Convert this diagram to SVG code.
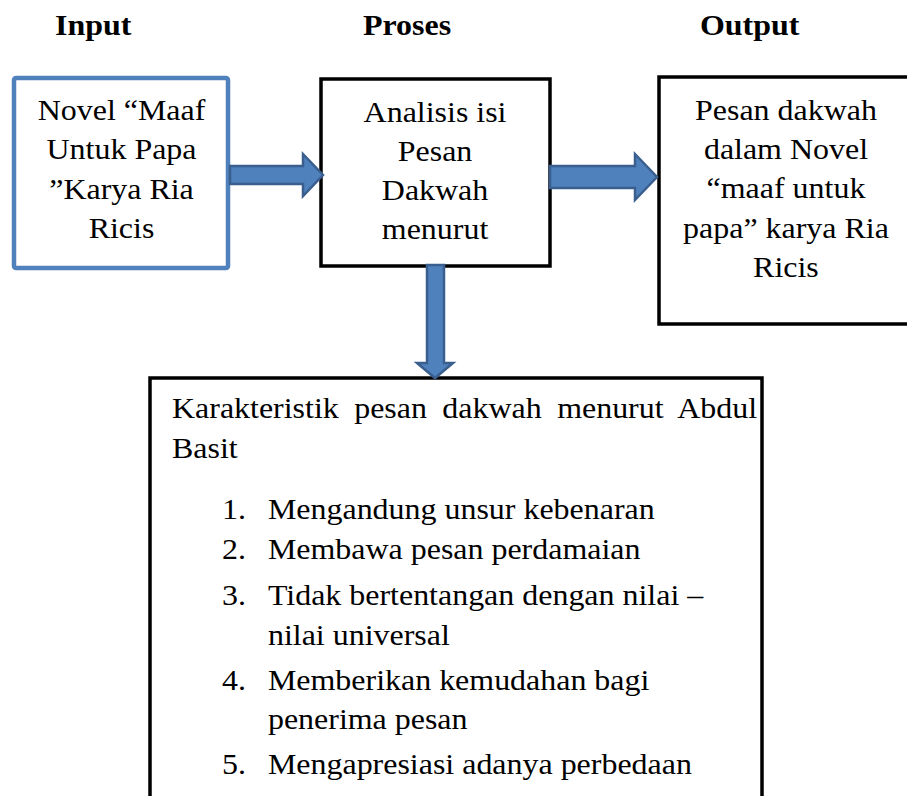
<svg xmlns="http://www.w3.org/2000/svg" width="907" height="796" viewBox="0 0 907 796">
<style>
text{font-family:"Liberation Serif","Times New Roman",serif;font-size:30px;fill:#000}
.h{font-weight:bold}
.c{text-anchor:middle}
.box{fill:#fff;stroke:#000;stroke-width:3.5}
.blue{fill:#fff;stroke:#4F81BD;stroke-width:4.5}
.arr{fill:#4F81BD;stroke:#3A5F8E;stroke-width:2.5;stroke-linejoin:miter}
</style>
<rect width="907" height="796" fill="#fff"/>
<g id="headings" transform="scale(1.065,1)">
<text class="h" x="51.6" y="35">Input</text>
<text class="h" x="340.8" y="35">Proses</text>
<text class="h" x="657.3" y="35">Output</text>
</g>
<g id="input">
<rect class="blue" x="14" y="78" width="214" height="190" rx="2"/>
<g transform="scale(1.065,1)">
<text class="c" x="114.1" y="120">Novel “Maaf</text>
<text class="c" x="114.1" y="159">Untuk Papa</text>
<text class="c" x="114.1" y="199">”Karya Ria</text>
<text class="c" x="114.1" y="238">Ricis</text>
</g>
</g>
<g id="proses">
<rect class="box" x="321" y="79" width="229" height="187"/>
<g transform="scale(1.065,1)">
<text class="c" x="408.5" y="122">Analisis isi</text>
<text class="c" x="408.5" y="161">Pesan</text>
<text class="c" x="408.5" y="200">Dakwah</text>
<text class="c" x="408.5" y="239">menurut</text>
</g>
</g>
<g id="output">
<rect class="box" x="659" y="77" width="260" height="247"/>
<g transform="scale(1.065,1)">
<text class="c" x="738" y="120">Pesan dakwah</text>
<text class="c" x="738" y="159">dalam Novel</text>
<text class="c" x="738" y="198">“maaf untuk</text>
<text class="c" x="738" y="238">papa” karya Ria</text>
<text class="c" x="738" y="277">Ricis</text>
</g>
</g>
<g id="karakteristik">
<rect class="box" x="150" y="378" width="612" height="440"/>
<g transform="scale(1.065,1)">
<text x="161.5" y="418" word-spacing="7">Karakteristik pesan dakwah menurut Abdul</text>
<text x="161.5" y="458">Basit</text>
<text x="208.5" y="519">1.</text><text x="251.6" y="519">Mengandung unsur kebenaran</text>
<text x="208.5" y="559">2.</text><text x="251.6" y="559">Membawa pesan perdamaian</text>
<text x="208.5" y="605">3.</text><text x="251.6" y="605">Tidak bertentangan dengan nilai –</text>
<text x="251.6" y="645">nilai universal</text>
<text x="208.5" y="690">4.</text><text x="251.6" y="690">Memberikan kemudahan bagi</text>
<text x="251.6" y="729">penerima pesan</text>
<text x="208.5" y="774">5.</text><text x="251.6" y="774">Mengapresiasi adanya perbedaan</text>
</g>
</g>
<g id="connectors">
<path class="arr" d="M230,166 H303 V154 L323,175 L303,196 V184 H230 Z"/>
<path class="arr" d="M550,166 H635 V154 L657,177 L635,200 V188 H550 Z"/>
<path class="arr" d="M427,265 H444 V363 H453 L435,378 L417,363 H427 Z"/>
</g>
</svg>
